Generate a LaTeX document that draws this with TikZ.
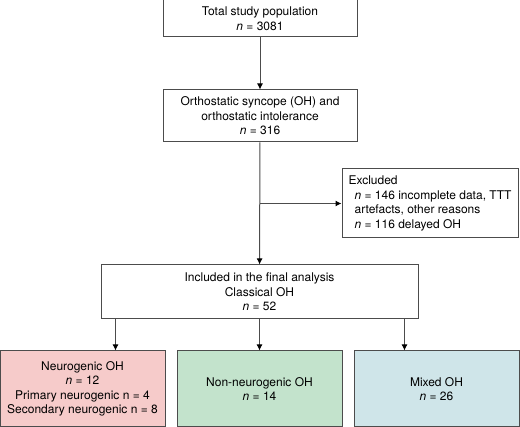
\documentclass[tikz,border=0pt]{standalone}
\usepackage{fontspec}
\setmainfont{TeX Gyre Heros}
\usepackage{xcolor}
\definecolor{neuro}{HTML}{F6CBCA}
\definecolor{nonneuro}{HTML}{C3E3CC}
\definecolor{mixed}{HTML}{CFE5E9}
\usetikzlibrary{calc,arrows.meta}
\tikzset{
  >={Latex[length=6pt,width=6pt,black]},
  x=1pt, y=1pt,
}
\tikzstyle{box}=[draw=black!70,line width=1pt,align=center,inner sep=0pt]
\tikzstyle{vector}=[->,line width=1pt,draw=black!70]
\tikzstyle{every node}=[font=\fontsize{12}{14.5}\selectfont]

\begin{document}
\begin{tikzpicture}
    \useasboundingbox (0,0) rectangle (520,427);
    \node[box,minimum width=194pt,minimum height=37pt] (total) at (260,408.5) {Total study population\\\textit{n} = 3081};
    \node[box,minimum width=194pt,minimum height=52pt] (ortho) at (260,311) {Orthostatic syncope (OH) and\\orthostatic intolerance\\\textit{n} = 316};
    \node[box,minimum width=176pt,minimum height=69pt,align=left] (excl) at (430,223.5)
      {Excluded\\\hspace*{6pt}\textit{n} = 146 incomplete data, TTT\\\hspace*{6pt}artefacts, other reasons\\\hspace*{6pt}\textit{n} = 116 delayed OH};
    \node[box,minimum width=317pt,minimum height=54pt] (final) at (259.5,135) {Included in the final analysis\\Classical OH\\\textit{n} = 52};
    \node[box,fill=neuro,minimum width=165pt,minimum height=76pt] (neuro) at (82.5,38) {Neurogenic OH\\\textit{n} = 12\\Primary neurogenic n = 4\\Secondary neurogenic n = 8};
    \node[box,fill=nonneuro,minimum width=165pt,minimum height=76pt] (nonneuro) at (259.5,38) {Non-neurogenic OH\\\textit{n} = 14};
    \node[box,fill=mixed,minimum width=165pt,minimum height=76pt] (mixed) at (436.5,38) {Mixed OH\\\textit{n} = 26};
    \draw[vector] (total) -- (ortho);
    \draw[vector] (ortho) -- (final);
    \draw[vector] (ortho.south |- excl.west) -- (excl.west);
    \draw[vector] ($(final.south west)+(15,0)$) -- ($(final.south west |- neuro.north)+(15,0)$);
    \draw[vector] (final.south) -- (final.south |- nonneuro.north);
    \draw[vector] ($(final.south east)+(-14,0)$) -- ($(final.south east |- mixed.north)+(-14,0)$);
\end{tikzpicture}
\end{document}
